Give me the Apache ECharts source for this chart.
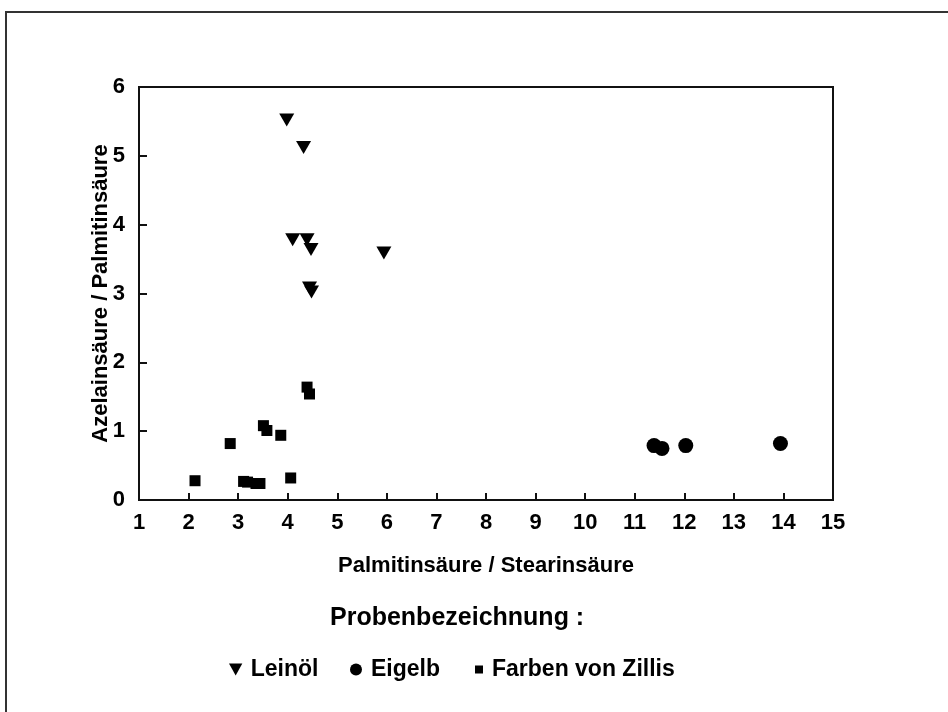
<!DOCTYPE html>
<html>
<head>
<meta charset="utf-8">
<script src="https://cdn.jsdelivr.net/npm/echarts@6/dist/echarts.min.js"></script>
<style>
  html, body { margin: 0; padding: 0; background: #fff; }
  #chart { width: 948px; height: 712px; }
</style>
</head>
<body>
<div id="chart"></div>
<script>
// Messwerte [Palmitinsäure/Stearinsäure, Azelainsäure/Palmitinsäure]
const leinoel = [[3.98, 5.52], [4.32, 5.12], [4.10, 3.78], [4.39, 3.78], [4.47, 3.64], [5.94, 3.59], [4.44, 3.08], [4.48, 3.02]]
const eigelb = [[11.39, 0.79], [11.55, 0.75], [12.03, 0.79], [13.94, 0.82]]
const zillis = [[2.13, 0.28], [2.84, 0.82], [3.11, 0.27], [3.19, 0.26], [3.36, 0.24], [3.44, 0.24], [3.51, 1.08], [3.58, 1.01], [3.86, 0.94], [4.06, 0.32], [4.39, 1.64], [4.44, 1.54]]
const seriesNames = ['Leinöl', 'Eigelb', 'Farben von Zillis']
const xTitle = 'Palmitinsäure / Stearinsäure'
const yTitle = 'Azelainsäure / Palmitinsäure'
const legendTitle = 'Probenbezeichnung :'

const font = '"Liberation Sans", Arial, Helvetica, sans-serif'
const ink = '#000'

const chart = echarts.init(document.getElementById('chart'))

// eine Legende pro Eintrag, damit die Abstände passen
function legendItem(name, left, icon, w, h) {
  return {
    data: [{ name: name, icon: icon }],
    left: left,
    top: 653,
    itemWidth: w,
    itemHeight: h,
    selectedMode: false,
    textStyle: { color: ink, fontSize: 23, fontWeight: 'bold', fontFamily: font }
  }
}

const option = {
  backgroundColor: '#fff',
  animation: false,
  grid: {
    left: 139,
    right: 115,
    top: 87,
    bottom: 212,
    show: true,
    borderColor: '#111',
    borderWidth: 2
  },
  xAxis: {
    type: 'value',
    min: 1,
    max: 15,
    interval: 1,
    name: xTitle,
    nameLocation: 'middle',
    nameGap: 55,
    nameTextStyle: { color: ink, fontSize: 22, fontWeight: 'bold', fontFamily: font },
    splitLine: { show: false },
    axisLine: { show: true, lineStyle: { color: '#111', width: 2 } },
    axisTick: { inside: true, length: 7, lineStyle: { color: '#111', width: 2 } },
    axisLabel: { color: ink, fontSize: 22, fontWeight: 'bold', fontFamily: font, margin: 12 }
  },
  yAxis: {
    type: 'value',
    min: 0,
    max: 6,
    interval: 1,
    name: yTitle,
    nameLocation: 'middle',
    nameGap: 27,
    nameMoveOverlap: false,
    nameTextStyle: { color: ink, fontSize: 22, fontWeight: 'bold', fontFamily: font },
    splitLine: { show: false },
    axisLine: { show: true, lineStyle: { color: '#111', width: 2 } },
    axisTick: { inside: true, length: 8, lineStyle: { color: '#111', width: 2 } },
    axisLabel: { color: ink, fontSize: 22, fontWeight: 'bold', fontFamily: font, margin: 14 }
  },
  legend: [
    legendItem(seriesNames[0], 224, 'path://M0,0 L10,0 L5,9 Z', 20, 12),
    legendItem(seriesNames[1], 345, 'circle', 20, 12),
    legendItem(seriesNames[2], 470, 'path://M0,0 L8,0 L8,8 L0,8 Z', 16, 8)
  ],
  graphic: [
    // äusserer Rahmen
    {
      type: 'rect',
      shape: { x: 6, y: 12, width: 1000, height: 800 },
      style: { fill: 'none', stroke: '#333', lineWidth: 2 },
      silent: true
    },
    {
      type: 'text',
      left: 330,
      top: 606,
      style: { text: legendTitle, fill: ink, fontSize: 25, fontWeight: 'bold', fontFamily: font }
    }
  ],
  series: [
    {
      name: seriesNames[0],
      type: 'scatter',
      symbol: 'triangle',
      symbolRotate: 180,
      symbolSize: [15, 13],
      itemStyle: { color: ink, opacity: 1 },
      data: leinoel
    },
    {
      name: seriesNames[1],
      type: 'scatter',
      symbol: 'circle',
      symbolSize: 15,
      itemStyle: { color: ink, opacity: 1 },
      data: eigelb
    },
    {
      name: seriesNames[2],
      type: 'scatter',
      symbol: 'rect',
      symbolSize: 11,
      itemStyle: { color: ink, opacity: 1 },
      data: zillis
    }
  ]
}

chart.setOption(option)
</script>
</body>
</html>
